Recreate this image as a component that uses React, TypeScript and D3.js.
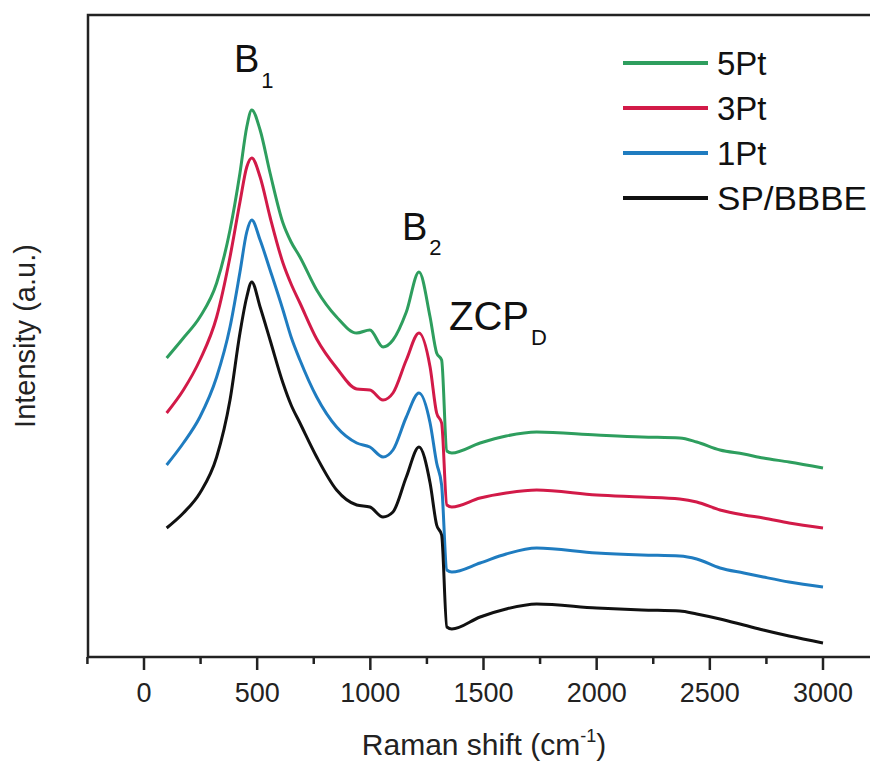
import React from "react";
import * as d3 from "d3";

const ramanShift = [100, 174, 247, 321, 380, 424, 454, 476, 513, 557, 614, 650, 689, 763, 851, 940, 998, 1056, 1100, 1159, 1215, 1264, 1293, 1315, 1338, 1360, 1485, 1600, 1735, 2000, 2200, 2367, 2442, 2545, 2650, 2736, 2850, 3000];

const pt5 = [299, 319, 340, 374, 427, 484, 530, 547, 527, 484, 434, 415, 400, 367, 340, 324, 327, 310, 317, 345, 385, 340, 304, 297, 206, 204, 214, 221, 225, 222, 220, 219, 215, 207, 203, 199, 195, 189];
const pt3 = [244, 267, 297, 340, 400, 455, 490, 499, 480, 440, 394, 373, 354, 318, 289, 268, 267, 257, 264, 297, 324, 290, 244, 234, 152, 150, 159, 164, 167, 162, 160, 158, 155, 147, 142, 139, 134, 129];
const pt1 = [192, 214, 240, 280, 330, 385, 425, 437, 417, 387, 347, 320, 297, 260, 230, 214, 210, 200, 207, 240, 264, 234, 194, 172, 87, 85, 94, 103, 109, 104, 102, 101, 98, 89, 84, 80, 75, 70];
const spBBBE = [129, 144, 164, 200, 257, 324, 360, 375, 350, 317, 274, 252, 234, 200, 167, 152, 150, 140, 145, 180, 210, 174, 132, 122, 30, 28, 40, 48, 53, 49, 47, 46, 43, 38, 32, 27, 21, 14];

const seriesNames = ["5Pt", "3Pt", "1Pt", "SP/BBBE"];
const seriesValues = [pt5, pt3, pt1, spBBBE];
const seriesColors = ["#2e9e5e", "#d21a48", "#1f7cc0", "#111111"];

const xTicks = [0, 500, 1000, 1500, 2000, 2500, 3000];
const xMinorTicks = [-250, 250, 750, 1250, 1750, 2250, 2750];

const W = 870;
const H = 763;
const left = 88;
const top = 15;
const bottom = 657;
const right = 882;

export default function App() {
  const x = d3.scaleLinear().domain([0, 3000]).range([144, 823]);
  const y = d3.scaleLinear().domain([0, 642]).range([bottom, top]);
  const line = d3
    .line<[number, number]>()
    .x((d) => x(d[0]))
    .y((d) => y(d[1]))
    .curve(d3.curveMonotoneX);

  const font = "Liberation Sans, Arial, Helvetica, sans-serif";

  return (
    <svg
      width={W}
      height={H}
      style={{ position: "absolute", left: 0, top: 0, background: "#fff" }}
      fontFamily={font}
    >
      <rect x={0} y={0} width={W} height={H} fill="#fff" />
      {seriesValues.map((vals, i) => (
        <path
          key={seriesNames[i]}
          d={line(ramanShift.map((r, j) => [r, vals[j]] as [number, number])) || ""}
          fill="none"
          stroke={seriesColors[i]}
          strokeWidth={3}
          strokeLinejoin="round"
        />
      ))}
      <rect x={left} y={top} width={right - left} height={bottom - top} fill="none" stroke="#222" strokeWidth={2.5} />
      {xTicks.map((t) => (
        <g key={t}>
          <line x1={x(t)} x2={x(t)} y1={bottom} y2={bottom + 13} stroke="#222" strokeWidth={2.5} />
          <text x={x(t)} y={702} textAnchor="middle" fontSize={27} fill="#222">
            {t}
          </text>
        </g>
      ))}
      {xMinorTicks.map((t) => (
        <line key={t} x1={x(t)} x2={x(t)} y1={bottom} y2={bottom + 7} stroke="#222" strokeWidth={2.5} />
      ))}
      <text x={484} y={755} textAnchor="middle" fontSize={30} fill="#222">
        Raman shift (cm
        <tspan dy={-13} fontSize={18}>-1</tspan>
        <tspan dy={13}>)</tspan>
      </text>
      <text transform="translate(35,336) rotate(-90)" textAnchor="middle" fontSize={29} fill="#222">
        Intensity (a.u.)
      </text>
      <text x={234} y={72} fontSize={38} fill="#111">
        B<tspan dx={2} dy={16} fontSize={22}>1</tspan>
      </text>
      <text x={402} y={240} fontSize={38} fill="#111">
        B<tspan dx={2} dy={15} fontSize={22}>2</tspan>
      </text>
      <text x={449} y={330} fontSize={40} fill="#111">
        ZCP<tspan dx={2} dy={15} fontSize={22}>D</tspan>
      </text>
      {seriesNames.map((n, i) => (
        <g key={n}>
          <line x1={623} x2={708} y1={63 + i * 45} y2={63 + i * 45} stroke={seriesColors[i]} strokeWidth={4} />
          <text
            x={717}
            y={75 + i * 45}
            fontSize={33}
            fill="#111"
            {...(n === "SP/BBBE" ? { textLength: 150, lengthAdjust: "spacingAndGlyphs" } : {})}
          >
            {n}
          </text>
        </g>
      ))}
    </svg>
  );
}
